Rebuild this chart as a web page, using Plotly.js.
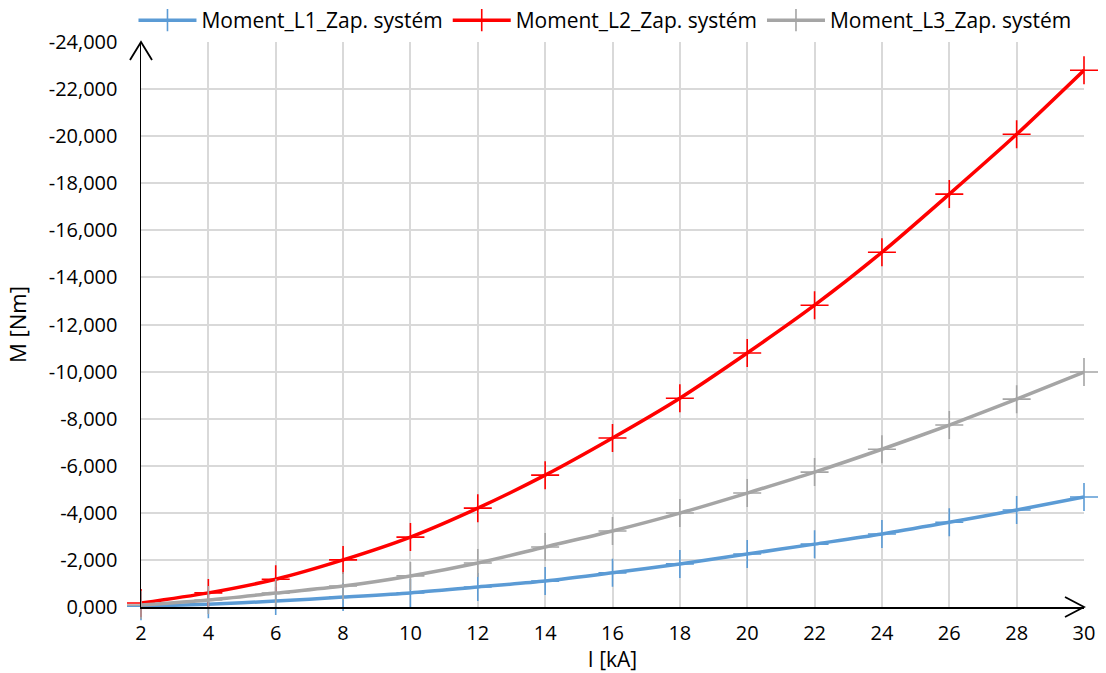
<!DOCTYPE html>
<html>
<head>
<meta charset="utf-8">
<script src="https://cdn.plot.ly/plotly-3.0.1.min.js"></script>
<style>html,body{margin:0;padding:0;background:#fff;}#chart{width:1106px;height:673px;}</style>
</head>
<body>
<div id="chart"></div>
<script>
// Current I [kA]
const current = [2, 4, 6, 8, 10, 12, 14, 16, 18, 20, 22, 24, 26, 28, 30];
// Moment values (axis labels show 3 decimals with comma separator)
const momentL1 = [-0.03, -0.12, -0.25, -0.42, -0.60, -0.85, -1.10, -1.45, -1.83, -2.25, -2.67, -3.10, -3.60, -4.12, -4.67];
const momentL2 = [-0.17, -0.60, -1.18, -2.00, -2.97, -4.20, -5.60, -7.18, -8.87, -10.79, -12.82, -15.07, -17.54, -20.08, -22.80];
const momentL3 = [-0.08, -0.30, -0.59, -0.89, -1.32, -1.87, -2.55, -3.23, -3.99, -4.84, -5.73, -6.70, -7.73, -8.83, -9.98];
const seriesNames = ["Moment_L1_Zap. systém", "Moment_L2_Zap. systém", "Moment_L3_Zap. systém"];
const seriesColors = ["#5B9BD5", "#FF0000", "#A5A5A5"];
const xTicks = [2, 4, 6, 8, 10, 12, 14, 16, 18, 20, 22, 24, 26, 28, 30];
const yTicks = [0, -2, -4, -6, -8, -10, -12, -14, -16, -18, -20, -22, -24];
const yTickLabels = ["0,000", "-2,000", "-4,000", "-6,000", "-8,000", "-10,000", "-12,000", "-14,000", "-16,000", "-18,000", "-20,000", "-22,000", "-24,000"];

const FONT = "Open Sans, Liberation Sans, sans-serif";
const allY = [momentL1, momentL2, momentL3];
const traces = allY.map((ys, i) => ({
  type: "scatter",
  mode: "lines+markers",
  x: current,
  y: ys,
  name: seriesNames[i],
  cliponaxis: false,
  line: {color: seriesColors[i], width: 3.5, shape: "spline", smoothing: 0.8},
  marker: {symbol: "cross-thin", size: 20, color: seriesColors[i], line: {color: seriesColors[i], width: 1.6}}
}));

const layout = {
  width: 1106, height: 673,
  margin: {l: 141, r: 22, t: 42, b: 66},
  paper_bgcolor: "#fff", plot_bgcolor: "#fff",
  font: {family: FONT, size: 20, color: "#000"},
  showlegend: true,
  legend: {orientation: "h", x: 0.547, xanchor: "center", xref: "container", y: 1, yanchor: "top", yref: "container",
           font: {family: FONT, size: 21, color: "#000"}, itemwidth: 58, tracegroupgap: 0, bgcolor: "rgba(0,0,0,0)"},
  xaxis: {
    range: [2, 30], tickvals: xTicks, tickformat: "d",
    showgrid: true, gridcolor: "#D9D9D9", gridwidth: 2,
    zeroline: false, showline: true, linecolor: "#000", linewidth: 1.5,
    ticks: "", ticklen: 0, ticklabelstandoff: 7, tickfont: {family: FONT, size: 20, color: "#000"},
    title: {text: "I [kA]", font: {family: FONT, size: 21, color: "#000"}, standoff: 8}
  },
  yaxis: {
    range: [0, -24], tickvals: yTicks, ticktext: yTickLabels,
    showgrid: true, gridcolor: "#D9D9D9", gridwidth: 2,
    zeroline: false, showline: true, linecolor: "#000", linewidth: 1.5,
    ticks: "", ticklen: 0, ticklabelstandoff: 18, tickfont: {family: FONT, size: 20, color: "#000"},
    title: {text: "M [Nm]", font: {family: FONT, size: 22, color: "#000"}, standoff: 16}
  },
  shapes: [
    {type: "path", xref: "paper", yref: "paper", xsizemode: "pixel", ysizemode: "pixel", xanchor: 0, yanchor: 1,
     path: "M -11,-18 L 0,0 L 11,-18", line: {color: "#000", width: 1.8}},
    {type: "path", xref: "paper", yref: "paper", xsizemode: "pixel", ysizemode: "pixel", xanchor: 1, yanchor: 0,
     path: "M -19,10 L 0,0 L -19,-10", line: {color: "#000", width: 1.8}}
  ]
};

Plotly.newPlot("chart", traces, layout, {displayModeBar: false, staticPlot: true});
</script>
</body>
</html>
